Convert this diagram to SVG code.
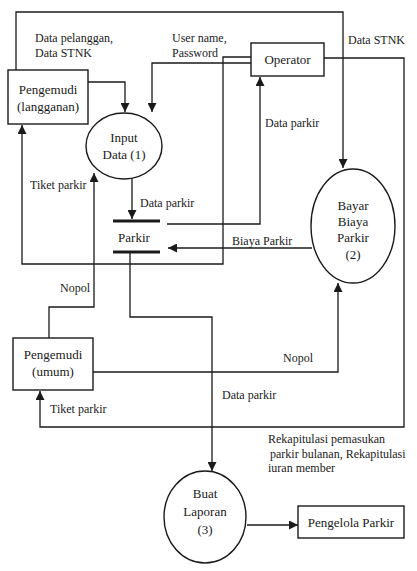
<svg xmlns="http://www.w3.org/2000/svg" width="417" height="571" viewBox="0 0 417 571">
<style>
  .bg{fill:#ffffff}
  .box{fill:#ffffff;stroke:#1a1a1a;stroke-width:1.4}
  .bar{stroke:#1a1a1a;stroke-width:3}
  .ln{fill:none;stroke:#1a1a1a;stroke-width:1.3}
  .t{font-family:"Liberation Serif","Times New Roman",serif;font-size:13px;fill:#1a1a1a}
  .l{font-family:"Liberation Serif","Times New Roman",serif;font-size:12px;fill:#1a1a1a}
  .c{text-anchor:middle}
</style>
<defs>
  <marker id="ah" viewBox="0 0 10 10" refX="10" refY="5" markerWidth="9" markerHeight="9" markerUnits="userSpaceOnUse" orient="auto">
    <path d="M0,0 L10,5 L0,10 z" fill="#1a1a1a"/>
  </marker>
</defs>
<rect class="bg" x="0" y="0" width="417" height="571"/>

<g id="connectors">
  <path class="ln" d="M16,70 V12 H343 V168" marker-end="url(#ah)"/>
  <path class="ln" d="M88,82 H125 V112" marker-end="url(#ah)"/>
  <path class="ln" d="M251,63 H152 V112" marker-end="url(#ah)"/>
  <path class="ln" d="M251,57 H223 V264 H22 V125" marker-end="url(#ah)"/>
  <path class="ln" d="M132,179 V219" marker-end="url(#ah)"/>
  <path class="ln" d="M167,224 H260 V77" marker-end="url(#ah)"/>
  <path class="ln" d="M312,248 H168" marker-end="url(#ah)"/>
  <path class="ln" d="M324,58 H404 V427 H40 V391" marker-end="url(#ah)"/>
  <path class="ln" d="M49,338 V307 H94 V173" marker-end="url(#ah)"/>
  <path class="ln" d="M93,372 H338 V283" marker-end="url(#ah)"/>
  <path class="ln" d="M130,252 V317 H212 V471" marker-end="url(#ah)"/>
  <path class="ln" d="M247,525 H298" marker-end="url(#ah)"/>
  <text class="l" x="35" y="42">Data pelanggan,</text>
  <text class="l" x="35" y="57">Data STNK</text>
  <text class="l" x="172" y="42">User name,</text>
  <text class="l" x="172" y="57">Password</text>
  <text class="l" x="348" y="44">Data STNK</text>
  <text class="l" x="265" y="127">Data parkir</text>
  <text class="l" x="30" y="189">Tiket parkir</text>
  <text class="l" x="140" y="207">Data parkir</text>
  <text class="l" x="232" y="245">Biaya Parkir</text>
  <text class="l" x="60" y="292">Nopol</text>
  <text class="l" x="283" y="362">Nopol</text>
  <text class="l" x="222" y="399">Data parkir</text>
  <text class="l" x="50" y="413">Tiket parkir</text>
  <text class="l" x="268" y="443">Rekapitulasi pemasukan</text>
  <text class="l" x="270" y="458">parkir bulanan, Rekapitulasi</text>
  <text class="l" x="268" y="472">iuran member</text>
</g>

<g id="pengemudi-langganan">
  <rect class="box" x="8" y="70" width="80" height="54"/>
  <text class="t c" x="48" y="94">Pengemudi</text>
  <text class="t c" x="48" y="111">(langganan)</text>
</g>
<g id="operator">
  <rect class="box" x="251" y="43" width="73" height="33"/>
  <text class="t c" x="287.5" y="64">Operator</text>
</g>
<g id="input-data">
  <ellipse class="box" cx="124" cy="146" rx="38" ry="33"/>
  <text class="t c" x="124" y="142">Input</text>
  <text class="t c" x="124" y="159">Data (1)</text>
</g>
<g id="parkir">
  <line class="bar" x1="113" y1="221" x2="160" y2="221"/>
  <line class="bar" x1="113" y1="252" x2="160" y2="252"/>
  <text class="t c" x="134" y="242">Parkir</text>
</g>
<g id="bayar-biaya-parkir">
  <ellipse class="box" cx="353" cy="226" rx="42" ry="57"/>
  <text class="t c" x="353" y="210">Bayar</text>
  <text class="t c" x="353" y="226">Biaya</text>
  <text class="t c" x="353" y="242">Parkir</text>
  <text class="t c" x="353" y="259">(2)</text>
</g>
<g id="pengemudi-umum">
  <rect class="box" x="13" y="338" width="80" height="52"/>
  <text class="t c" x="53" y="359">Pengemudi</text>
  <text class="t c" x="53" y="376">(umum)</text>
</g>
<g id="buat-laporan">
  <ellipse class="box" cx="205" cy="517" rx="41" ry="46"/>
  <text class="t c" x="205" y="498">Buat</text>
  <text class="t c" x="205" y="516">Laporan</text>
  <text class="t c" x="205" y="534">(3)</text>
</g>
<g id="pengelola-parkir">
  <rect class="box" x="298" y="506" width="106" height="32"/>
  <text class="t c" x="351" y="527">Pengelola Parkir</text>
</g>
</svg>
